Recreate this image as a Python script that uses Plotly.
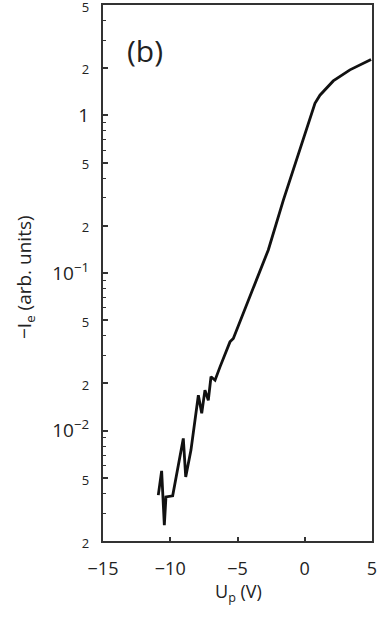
import plotly.graph_objects as go

# Probe voltage U_p (V) and electron current -I_e (arb. units)
u_p = [-10.89, -10.64, -10.44, -10.32, -9.82, -9.03, -8.85, -8.46, -7.91, -7.66,
       -7.42, -7.17, -6.97, -6.67, -6.30, -5.93, -5.56, -5.31, -5.06, -4.81,
       -4.57, -4.32, -3.94, -3.70, -3.33, -2.71, -1.59, -0.11, 0.40, 0.76,
       1.13, 2.12, 3.36, 4.93]
i_e = [0.00391, 0.00557, 0.00252, 0.00381, 0.00387, 0.00894, 0.0051, 0.00754, 0.0168, 0.0129,
       0.0181, 0.0156, 0.0220, 0.0209, 0.0254, 0.0302, 0.0366, 0.0385, 0.0435, 0.0503,
       0.0555, 0.0641, 0.0760, 0.0859, 0.1044, 0.140, 0.290, 0.697, 0.95, 1.19,
       1.34, 1.65, 1.94, 2.26]

x_ticks = [-15, -10, -5, 0, 5]
x_labels = ["\u221215", "\u221210", "\u22125", "0", "5"]

y_ticks = [0.002, 0.005, 0.01, 0.02, 0.05, 0.1, 0.2, 0.5, 1, 2, 5]
small = "<span style='font-size:13px'>{}</span>"
y_labels = [small.format("2"), small.format("5"), "10<sup>\u22122</sup>",
            small.format("2"), small.format("5"), "10<sup>\u22121</sup>",
            small.format("2"), small.format("5"), "1",
            small.format("2"), small.format("5")]
y_minor = [m * 10.0 ** e for e in (-3, -2, -1, 0) for m in (3, 4, 6, 7, 8, 9)
           if 0.002 < m * 10.0 ** e < 5]

FONT = "Open Sans"
AXIS = "#333333"
TEXT = "#222222"

fig = go.Figure()
fig.add_trace(go.Scatter(
    x=u_p, y=i_e, mode="lines",
    line=dict(color="#111111", width=2.8),
    showlegend=False,
))

fig.update_layout(
    width=377, height=618,
    margin=dict(l=103, r=5, t=5, b=77),
    paper_bgcolor="white", plot_bgcolor="white",
    font=dict(family=FONT, color=TEXT),
    xaxis=dict(
        range=[-15, 5], tickvals=x_ticks, ticktext=x_labels,
        ticks="inside", ticklen=4, tickwidth=1.5, tickcolor=AXIS,
        showline=True, linecolor=AXIS, linewidth=2, mirror=True,
        showgrid=False, zeroline=False, automargin=False,
        tickfont=dict(size=18, family=FONT, color=TEXT), ticklabelstandoff=10,
        ticklabeloverflow="allow",
    ),
    yaxis=dict(
        type="log", range=[-2.699, 0.699],
        tickvals=y_ticks, ticktext=y_labels,
        ticks="inside", ticklen=5, tickwidth=1.5, tickcolor=AXIS,
        minor=dict(tickvals=y_minor, ticks="inside", ticklen=3, tickwidth=1, tickcolor=AXIS),
        showline=True, linecolor=AXIS, linewidth=2, mirror=True,
        showgrid=False, zeroline=False, automargin=False,
        tickfont=dict(size=19, family=FONT, color=TEXT), ticklabelstandoff=8,
        ticklabeloverflow="allow",
    ),
    annotations=[
        dict(text="(b)", xref="paper", yref="paper", x=0.156, y=0.916,
             xanchor="center", yanchor="middle",
             showarrow=False, font=dict(size=30, family=FONT, color=TEXT)),
        dict(text="U<sub>p</sub> (V)", xref="paper", yref="paper", x=0.502, y=-0.097,
             xanchor="center", yanchor="middle",
             showarrow=False, font=dict(size=18, family=FONT, color=TEXT)),
        dict(text="\u2212I<sub>e</sub> (arb. units)", xref="paper", yref="paper",
             x=-0.29, y=0.4925, textangle=-90, xanchor="center", yanchor="middle",
             showarrow=False, font=dict(size=19, family=FONT, color=TEXT)),
    ],
)

fig.write_html("out.html")
